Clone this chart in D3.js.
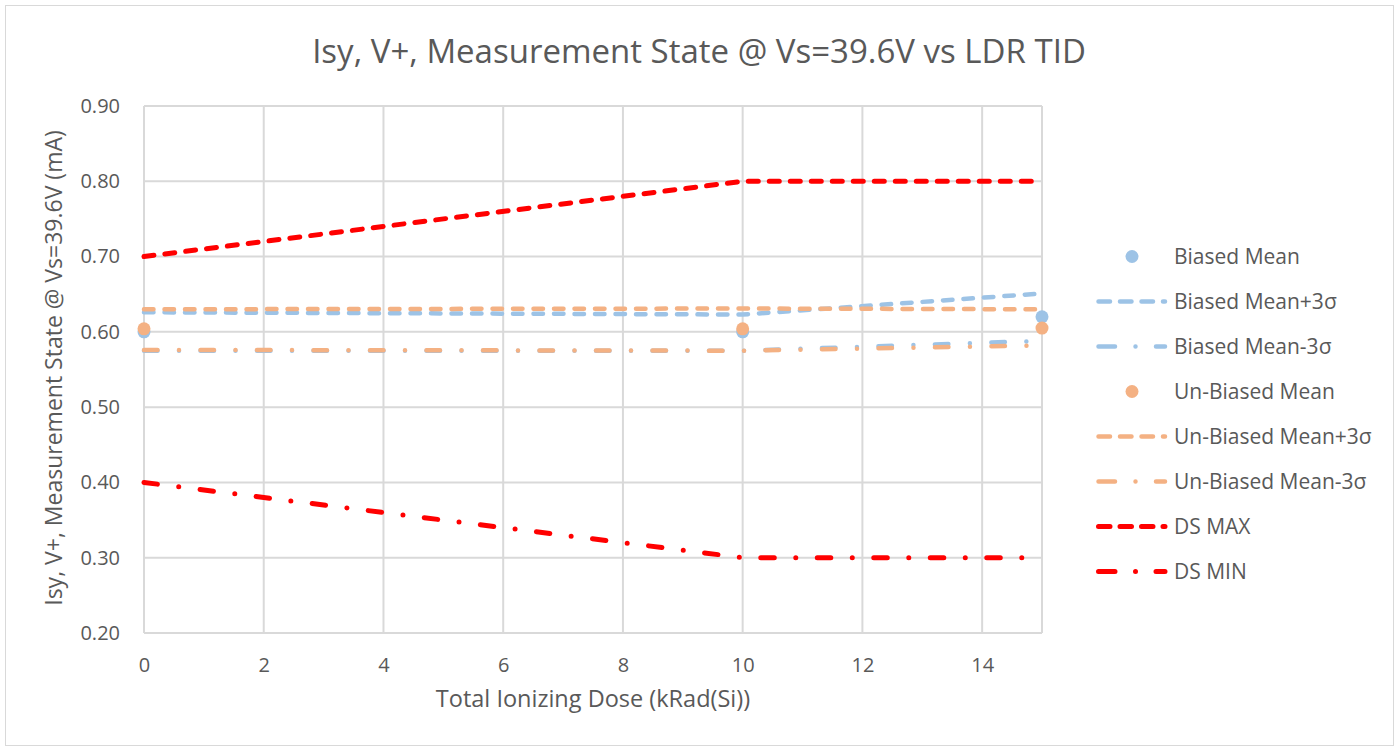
<!DOCTYPE html>
<html>
<head>
<meta charset="utf-8">
<script src="https://cdn.jsdelivr.net/npm/d3@7"></script>
<style>
body { margin:0; background:#fff; }
text { font-family: "Open Sans", sans-serif; fill:#595959; }
</style>
</head>
<body>
<script>
var doses = [0, 10, 15];
var biasedMean = [0.600, 0.600, 0.620];
var biasedPlus = [0.626, 0.623, 0.651];
var biasedMinus = [0.575, 0.575, 0.588];
var unbiasedMean = [0.604, 0.604, 0.605];
var unbiasedPlus = [0.630, 0.631, 0.630];
var unbiasedMinus = [0.576, 0.575, 0.582];
var dsMax = [0.70, 0.80, 0.80];
var dsMin = [0.40, 0.30, 0.30];
var xTicks = [0, 2, 4, 6, 8, 10, 12, 14];
var yTicks = [0.20, 0.30, 0.40, 0.50, 0.60, 0.70, 0.80, 0.90];

var blue = "#9dc3e6", orange = "#f4b183", red = "#ff0000";
var dashA = "9.5 11", dashDot = "13.5 21.5 0 21.5";

var series = [
  {name:"Biased Mean", vals:biasedMean, color:blue, type:"dot"},
  {name:"Biased Mean+3σ", vals:biasedPlus, color:blue, type:"line", dash:dashA, w:4.5},
  {name:"Biased Mean-3σ", vals:biasedMinus, color:blue, type:"line", dash:dashDot, w:4.5},
  {name:"Un-Biased Mean", vals:unbiasedMean, color:orange, type:"dot"},
  {name:"Un-Biased Mean+3σ", vals:unbiasedPlus, color:orange, type:"line", dash:dashA, w:4.5},
  {name:"Un-Biased Mean-3σ", vals:unbiasedMinus, color:orange, type:"line", dash:dashDot, w:4.5},
  {name:"DS MAX", vals:dsMax, color:red, type:"line", dash:"10 11", w:5},
  {name:"DS MIN", vals:dsMin, color:red, type:"line", dash:dashDot, w:5}
];

var svg = d3.select("body").append("svg").attr("width",1399).attr("height",751);

svg.append("rect").attr("x",5.5).attr("y",5.5).attr("width",1388).attr("height",740)
  .attr("fill","#fff").attr("stroke","#d9d9d9");

var x = d3.scaleLinear().domain([0,15]).range([144,1042]);
var y = d3.scaleLinear().domain([0.2,0.9]).range([633,106]);

// grid
svg.selectAll("line.gy").data(yTicks).enter().append("line")
  .attr("x1",x(0)).attr("x2",x(15))
  .attr("y1",function(d){return y(d);}).attr("y2",function(d){return y(d);})
  .attr("stroke","#d9d9d9").attr("stroke-width",2);
svg.selectAll("line.gx").data(xTicks.concat([15])).enter().append("line")
  .attr("y1",y(0.2)).attr("y2",y(0.9))
  .attr("x1",function(d){return x(d);}).attr("x2",function(d){return x(d);})
  .attr("stroke","#d9d9d9").attr("stroke-width",2);

// axes labels
var yAxis = svg.append("g").attr("transform","translate(144,0)")
  .call(d3.axisLeft(y).tickValues(yTicks).tickFormat(d3.format(".2f")).tickSize(0).tickPadding(24));
var xAxis = svg.append("g").attr("transform","translate(0,633)")
  .call(d3.axisBottom(x).tickValues(xTicks).tickSize(0).tickPadding(25));
[yAxis, xAxis].forEach(function(a){
  a.select(".domain").remove();
  a.selectAll("text").style("font-size","20px").attr("fill","#595959");
});

var line = d3.line().x(function(d,i){return x(doses[i]);}).y(function(d){return y(d);});

series.forEach(function(s){
  if (s.type == "line") {
    svg.append("path").datum(s.vals).attr("d",line)
      .attr("fill","none").attr("stroke",s.color).attr("stroke-width",s.w)
      .attr("stroke-dasharray",s.dash).attr("stroke-linecap","round");
  } else {
    svg.selectAll(null).data(s.vals).enter().append("circle")
      .attr("cx",function(d,i){return x(doses[i]);}).attr("cy",function(d){return y(d);})
      .attr("r",6.5).attr("fill",s.color);
  }
});

// titles
svg.append("text").attr("x",699).attr("y",63).attr("text-anchor","middle")
  .style("font-size","33px").text("Isy, V+, Measurement State @ Vs=39.6V vs LDR TID");
svg.append("text").attr("x",593).attr("y",707).attr("text-anchor","middle")
  .style("font-size","23.5px").text("Total Ionizing Dose (kRad(Si))");
svg.append("text").attr("transform","translate(62,368) rotate(-90)").attr("text-anchor","middle")
  .style("font-size","23px").text("Isy, V+, Measurement State @ Vs=39.6V (mA)");

// legend
var leg = svg.selectAll("g.leg").data(series).enter().append("g")
  .attr("transform",function(d,i){return "translate(1098,"+(256.5+i*45)+")";});
leg.each(function(s){
  var g = d3.select(this);
  if (s.type == "dot") {
    g.append("circle").attr("cx",34).attr("cy",0).attr("r",6.5).attr("fill",s.color);
  } else {
    g.append("line").attr("x1",0.5).attr("x2",67).attr("y1",0).attr("y2",0)
      .attr("stroke",s.color).attr("stroke-width",s.w).attr("stroke-linecap","round")
      .attr("stroke-dasharray", s.dash == dashDot ? "16.5 20.5 0 20.5" : "11.5 10");
  }
});
leg.append("text").attr("x",76).attr("y",0).attr("dy","0.35em")
  .style("font-size","21px").text(function(d){return d.name;});
</script>
</body>
</html>
